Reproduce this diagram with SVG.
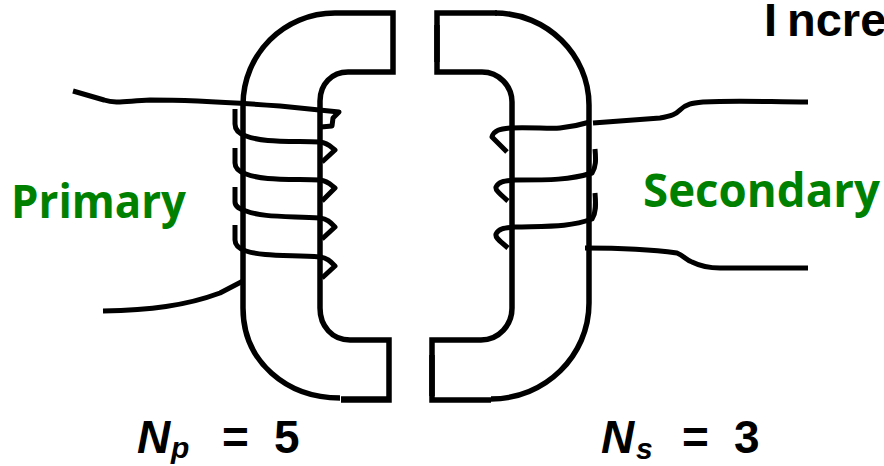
<svg xmlns="http://www.w3.org/2000/svg" width="884" height="466" viewBox="0 0 884 466">
<style>
.l{fill:none;stroke:#000;stroke-width:5.5}
.w{fill:none;stroke:#000;stroke-width:5;stroke-linejoin:round}
.t{font-family:"Open Sans","Liberation Sans",sans-serif;font-weight:700}
.n{font-family:"Liberation Sans",Arial,sans-serif;font-weight:700;fill:#000}
.g{fill:#008000;font-size:46px}
.i{font-style:italic}
</style>
<rect width="884" height="466" fill="#fff"/>
<g id="left-core">
<path class="l" d="M335 13H393V72H348C332 72 320 84 320 101V308C320 326 332 340 350 340H389V400H341"/>
<path class="l" d="M335 13C284 13 243 54 243 105V308C243 362 287 398 340 398"/>
<path class="l" d="M341 399H389"/>
</g>
<g id="right-core">
<path class="l" d="M497 13H437V72H482C499 72 512 86 512 102V308C512 325 499 340 481 340H432V400H491"/>
<path class="l" d="M495 13C547 13 589 55 589 105V303C589 356 545 399 491 399"/>
<path class="l" d="M432 355V396"/>
<path class="l" d="M437 25V62"/>
</g>
<g id="connectors">
<path class="w" d="M73 91L104 100C116 104 126 101 150 100C190 100 240 103 280 106L339 112L333 118L332 126L321 127"/>
<path class="w" d="M235 109V124C235 130 240 134 246 136C262 142 280 141 320 142C328 143 331 147 335 150L322 162"/>
<path class="w" d="M235 148V163C235 168 240 172 246 174C262 180 280 179 320 180C328 181 331 185 335 188L322 201"/>
<path class="w" d="M235 187V202C235 207 240 209 246 211C262 217 280 216 320 218C328 219 331 223 335 227L322 239"/>
<path class="w" d="M235 225V240C235 245 240 249 246 251C262 256 280 255 320 257C328 258 331 262 335 266L322 278"/>
<path class="w" d="M103 311C150 310 185 306 220 293L243 281"/>
<path class="w" d="M507 152L492 137C494 130 500 129 510 128C530 127 550 129 560 128C570 127 580 125 590 122"/>
<path class="w" d="M508 201C500 194 495 190 496 187C499 181 505 181 515 180C550 180 570 180 592 173C596 167 596 160 595 149"/>
<path class="w" d="M508 248C500 241 495 238 496 234C499 228 505 228 515 227C550 226 570 227 592 219C596 213 596 205 595 193"/>
<path class="w" d="M593 123L660 118C672 116 676 114 680 110C686 104 692 103 703 102C740 100 770 102 808 102"/>
<path class="w" d="M585 248C620 248 655 250 677 253C684 256 686 260 692 262C700 266 708 268 720 268H808"/>
</g>
<g id="labels">
<text class="t g" x="11" y="218" textLength="175" lengthAdjust="spacingAndGlyphs">Primary</text>
<text class="t g" x="643" y="207" textLength="237" lengthAdjust="spacingAndGlyphs">Secondary</text>
<text class="n" font-size="47" y="36"><tspan x="764">I</tspan><tspan x="787">ncre</tspan></text>
<text class="n i" font-size="46" x="137" y="453">N</text>
<text class="n i" font-size="30" x="171" y="458">p</text>
<text class="n" font-size="46" y="453"><tspan x="222">=</tspan><tspan x="274">5</tspan></text>
<text class="n i" font-size="46" x="601" y="453">N</text>
<text class="n i" font-size="30" x="636" y="459">s</text>
<text class="n" font-size="46" y="453"><tspan x="682">=</tspan><tspan x="734">3</tspan></text>
</g>
</svg>
